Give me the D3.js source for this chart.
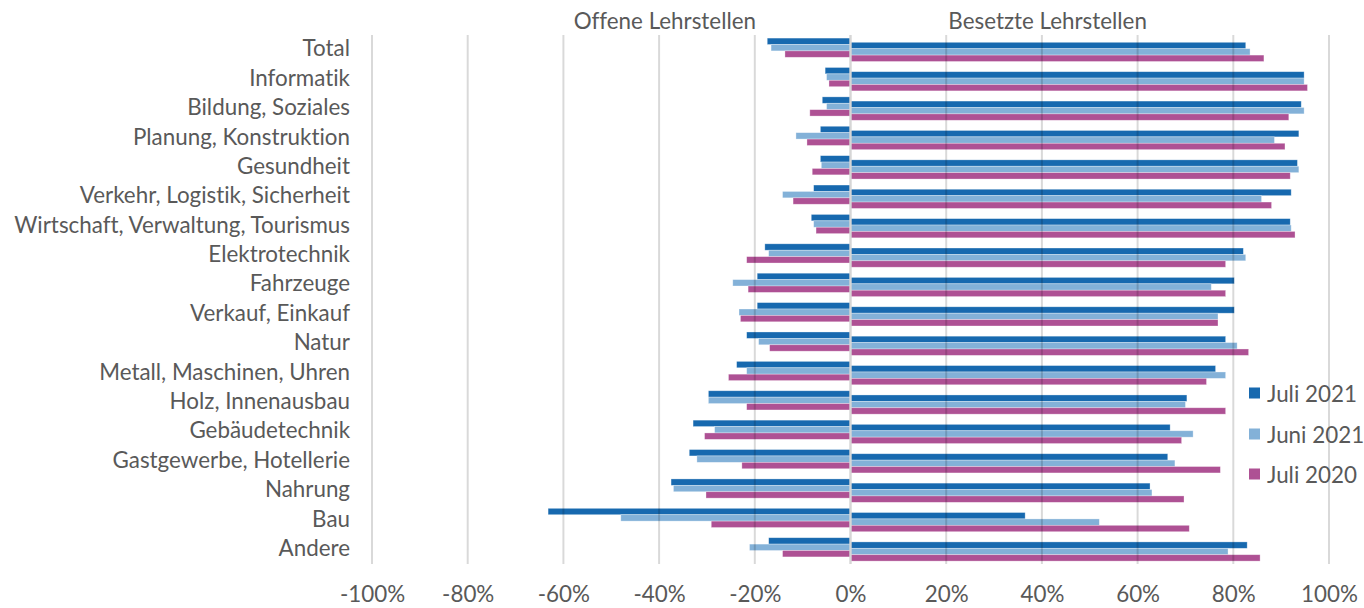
<!DOCTYPE html>
<html>
<head>
<meta charset="utf-8">
<script src="https://cdn.jsdelivr.net/npm/d3@7"></script>
<style>
  html, body { margin: 0; padding: 0; background: #fff; }
  svg { display: block; }
  text { font-family: Lato, "Open Sans", sans-serif; fill: #595959; font-variant-ligatures: none; font-feature-settings: "liga" 0, "clig" 0; }
</style>
</head>
<body>
<svg id="chart" width="1364" height="608"></svg>
<script>
// ---- Data ----
const categories = ["Total", "Informatik", "Bildung, Soziales", "Planung, Konstruktion", "Gesundheit",
  "Verkehr, Logistik, Sicherheit", "Wirtschaft, Verwaltung, Tourismus", "Elektrotechnik", "Fahrzeuge",
  "Verkauf, Einkauf", "Natur", "Metall, Maschinen, Uhren", "Holz, Innenausbau", "Gebäudetechnik",
  "Gastgewerbe, Hotellerie", "Nahrung", "Bau", "Andere"];
const seriesNames = ["Juli 2021", "Juni 2021", "Juli 2020"];
const offenJuli2021 = [-17.4, -5.3, -5.9, -6.3, -6.3, -7.7, -8.2, -17.9, -19.5, -19.5, -21.7, -23.8, -29.7, -32.9, -33.7, -37.5, -63.2, -17.1];
const offenJuni2021 = [-16.6, -5.0, -5.0, -11.4, -6.1, -14.2, -7.7, -17.1, -24.6, -23.3, -19.2, -21.7, -29.7, -28.4, -32.1, -37.0, -48.0, -21.1];
const offenJuli2020 = [-13.7, -4.5, -8.5, -9.1, -8.0, -12.0, -7.2, -21.7, -21.4, -23.0, -16.9, -25.5, -21.7, -30.5, -22.7, -30.2, -29.1, -14.2];
const besetztJuli2021 = [82.6, 94.8, 94.2, 93.7, 93.4, 92.1, 91.9, 82.1, 80.2, 80.2, 78.4, 76.3, 70.3, 66.8, 66.3, 62.6, 36.5, 82.9];
const besetztJuni2021 = [83.5, 94.8, 94.8, 88.6, 93.7, 85.9, 92.1, 82.6, 75.4, 76.8, 80.8, 78.4, 70.0, 71.6, 67.8, 63.0, 52.0, 78.9];
const besetztJuli2020 = [86.4, 95.5, 91.6, 90.8, 91.9, 88.0, 92.9, 78.4, 78.4, 76.8, 83.2, 74.4, 78.4, 69.2, 77.3, 69.7, 70.8, 85.6];
const xTicks = [-100, -80, -60, -40, -20, 0, 20, 40, 60, 80, 100];
const colors = ["#1769AF", "#83B1D8", "#AE5194"];
const titles = ["Offene Lehrstellen", "Besetzte Lehrstellen"];

// ---- Layout ----
const svg = d3.select("#chart");
const x = d3.scaleLinear().domain([-100, 100]).range([372, 1329]);
const y = d3.scaleBand().domain(categories).range([35, 564]);
const groupH = 19.2;
const sub = d3.scaleBand().domain(seriesNames).range([0, groupH]);
const color = d3.scaleOrdinal().domain(seriesNames).range(colors);

// font size fitting
const probe = svg.append("text").attr("font-size", 20).text("Wirtschaft, Verwaltung, Tourismus");
const w20 = probe.node().getComputedTextLength();
probe.remove();
const fs = Math.min(24, 20 * 336 / w20);

const offen = [offenJuli2021, offenJuni2021, offenJuli2020];
const besetzt = [besetztJuli2021, besetztJuni2021, besetztJuli2020];

function drawSide(arrs, offset, cls) {
  const g = svg.append("g").attr("class", cls);
  arrs.forEach((arr, si) => {
    const s = seriesNames[si];
    g.selectAll("rect.s" + si)
      .data(categories.map((c, i) => ({ c, v: arr[i] })))
      .join("rect")
      .attr("class", "s" + si)
      .attr("x", d => Math.min(x(0), x(d.v)))
      .attr("width", d => Math.abs(x(d.v) - x(0)))
      .attr("y", d => y(d.c) + y.bandwidth() / 2 + offset - groupH / 2 + sub(s))
      .attr("height", sub.bandwidth())
      .attr("fill", color(s))
      .attr("stroke", "#fff")
      .attr("stroke-opacity", 0.45)
      .attr("stroke-width", 0.7);
  });
}
drawSide(offen, -2, "offen");
drawSide(besetzt, 2.2, "besetzt");

// gridlines on top
const grid = svg.append("g");
grid.selectAll("line")
  .data(xTicks.filter(t => t !== 0))
  .join("line")
  .attr("x1", d => x(d)).attr("x2", d => x(d))
  .attr("y1", 35).attr("y2", 564)
  .attr("stroke", "#000").attr("stroke-opacity", 0.15).attr("stroke-width", 2);
grid.append("line")
  .attr("x1", x(0)).attr("x2", x(0)).attr("y1", 35).attr("y2", 564)
  .attr("stroke", "#d6d6d6").attr("stroke-width", 2.4);

// x axis labels
const xAxis = d3.axisBottom(x).tickValues(xTicks).tickFormat(d => d + "%").tickSize(0).tickPadding(0);
const xg = svg.append("g").attr("transform", "translate(0,586)").call(xAxis);
xg.select(".domain").remove();
xg.selectAll("text").attr("font-size", fs).attr("dy", "0.71em").attr("fill", "#595959")
  .style("font-family", "Lato, 'Open Sans', sans-serif");

// y axis labels
const yAxis = d3.axisLeft(y).tickSize(0).tickPadding(0);
const yg = svg.append("g").attr("transform", "translate(350,-0.5)").call(yAxis);
yg.select(".domain").remove();
yg.selectAll("text").attr("font-size", fs).attr("fill", "#595959")
  .style("font-family", "Lato, 'Open Sans', sans-serif");

// titles
svg.selectAll("text.title")
  .data(titles)
  .join("text")
  .attr("class", "title")
  .attr("x", (d, i) => i === 0 ? x(-38.8) : x(41.2))
  .attr("y", 20)
  .attr("text-anchor", "middle")
  .attr("dominant-baseline", "central")
  .attr("font-size", fs)
  .text(d => d);

// legend
const legY = [393, 434, 474];
const leg = svg.append("g");
seriesNames.forEach((s, i) => {
  leg.append("rect").attr("x", 1249).attr("y", legY[i] - 5.5).attr("width", 11).attr("height", 11)
    .attr("fill", color(s));
  leg.append("text").attr("x", 1267).attr("y", legY[i]).attr("dominant-baseline", "central")
    .attr("font-size", fs).text(s);
});
</script>
</body>
</html>
